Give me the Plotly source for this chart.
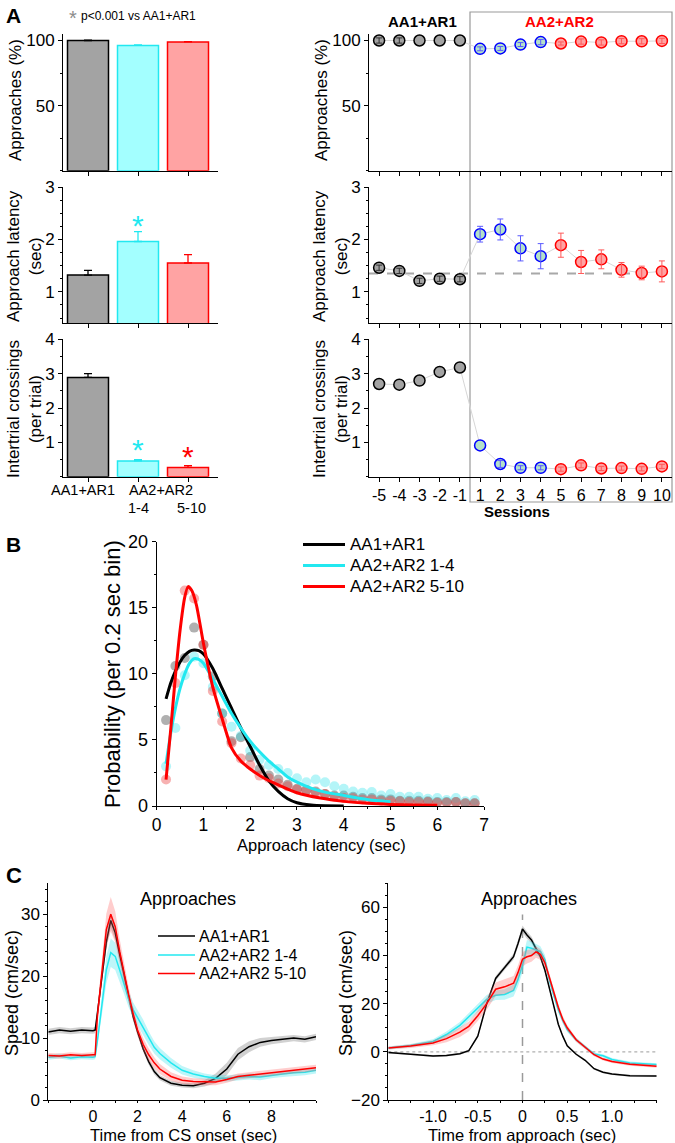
import plotly.graph_objects as go

W, H = 675, 1143
FONT = "Arial, Liberation Sans, sans-serif"

# ---------------- Panel A : group summaries (bars) ----------------
groups = ["AA1+AR1", "AA2+AR2 1-4", "AA2+AR2 5-10"]
bar_approach = [100.0, 96.2, 98.9]
bar_approach_err = [0.3, 0.4, 0.3]
bar_latency = [1.32, 1.96, 1.55]
bar_latency_err = [0.09, 0.19, 0.16]
bar_crossings = [2.89, 0.46, 0.27]
bar_crossings_err = [0.11, 0.04, 0.05]
latency_sig = [False, True, False]
crossings_sig = [False, True, True]

# ---------------- Panel A : per-session values ----------------
sessions = ["-5", "-4", "-3", "-2", "-1", "1", "2", "3", "4", "5", "6", "7", "8", "9", "10"]
sess_approach = [100, 100, 100, 100, 100, 93.6, 93.9, 96.9, 98.8, 97.7, 99.2, 98.5, 99.5, 99.4, 99.7]
sess_approach_err = [2, 2, 0, 0, 0, 1.5, 1.5, 1.5, 2, 1.2, 2, 2, 2, 2, 2]
sess_latency = [1.46, 1.40, 1.21, 1.25, 1.24, 2.10, 2.19, 1.83, 1.68, 1.89, 1.57, 1.62, 1.42, 1.36, 1.39]
sess_latency_err = [0.05, 0.05, 0.05, 0.05, 0.05, 0.15, 0.2, 0.24, 0.24, 0.23, 0.22, 0.18, 0.14, 0.13, 0.2]
sess_crossings = [2.70, 2.68, 2.80, 3.05, 3.18, 0.91, 0.37, 0.26, 0.26, 0.22, 0.33, 0.24, 0.25, 0.23, 0.30]
sess_crossings_err = [0, 0, 0, 0, 0, 0, 0.1, 0.06, 0.06, 0.06, 0.07, 0.06, 0.06, 0.06, 0.06]
baseline_latency = 1.35

# ---------------- Panel B : latency distributions ----------------
bins = [0.2, 0.4, 0.6, 0.8, 1.0, 1.2, 1.4, 1.6, 1.8, 2.0, 2.2, 2.4, 2.6, 2.8, 3.0, 3.2, 3.4,
        3.6, 3.8, 4.0, 4.2, 4.4, 4.6, 4.8, 5.0, 5.2, 5.4, 5.6, 5.8, 6.0, 6.2, 6.4, 6.6, 6.8]
prob_aa1 = [6.5, 10.6, 11.2, 13.5, 12.2, 9.8, 7.0, 4.9, 5.2, 3.7, 2.8, 2.3, 2.0, 1.6, 1.3, 1.2, 1.1,
            0.9, 0.8, 0.8, 0.7, 0.6, 0.6, 0.5, 0.5, 0.4, 0.4, 0.4, 0.35, 0.3, 0.3, 0.3, 0.2, 0.2]
prob_aa2_early = [3.0, 5.9, 9.9, 11.3, 10.8, 9.0, 7.0, 6.0, 5.3, 4.2, 3.5, 3.1, 2.8, 2.5, 2.1, 1.8, 2.0,
                  1.8, 1.5, 1.3, 1.1, 1.0, 1.05, 0.8, 0.9, 0.7, 0.7, 0.7, 0.55, 0.6, 0.45, 0.6, 0.35, 0.45]
prob_aa2_late = [2.0, 9.3, 16.3, 15.7, 12.2, 8.7, 6.4, 4.75, 3.6, 3.1, 2.3, 2.1, 1.7, 1.5, 1.25, 1.2, 1.0,
                 0.9, 0.7, 0.6, 0.6, 0.5, 0.5, 0.4, 0.4, 0.35, 0.3, 0.3, 0.3, 0.25, 0.25, 0.3, 0.2, 0.2]

fit_x_aa1 = [0.2, 0.3, 0.4, 0.5, 0.6, 0.7, 0.8, 0.9, 1.0, 1.2, 1.4, 1.6, 1.8, 2.0, 2.2, 2.4, 2.6, 2.8, 3.0, 3.3, 3.6, 4.0]
fit_y_aa1 = [8.1, 9.3, 10.2, 10.9, 11.4, 11.7, 11.8, 11.75, 11.5, 10.4, 8.9, 7.4, 5.9, 4.5, 3.1, 1.9, 1.1, 0.55, 0.25, 0.07, 0.01, 0.0]
fit_x_early = [0.2, 0.3, 0.4, 0.5, 0.6, 0.7, 0.8, 0.9, 1.0, 1.2, 1.4, 1.6, 1.8, 2.0, 2.2, 2.4, 2.6, 2.8, 3.0, 3.3, 3.6, 4.0, 4.5, 5.0]
fit_y_early = [3.2, 5.5, 7.4, 8.9, 10.0, 10.8, 11.15, 11.1, 10.8, 9.6, 8.3, 7.0, 5.9, 4.9, 4.1, 3.4, 2.8, 2.2, 1.8, 1.35, 1.05, 0.8, 0.5, 0.32]
fit_x_late = [0.2, 0.3, 0.4, 0.5, 0.6, 0.67, 0.75, 0.85, 1.0, 1.2, 1.4, 1.6, 1.8, 2.0, 2.3, 2.6, 3.0, 3.5, 4.0, 4.5, 5.0, 5.5, 6.0]
fit_y_late = [2.0, 5.8, 9.8, 13.3, 15.8, 16.6, 16.3, 15.2, 12.3, 9.0, 6.6, 4.4, 3.4, 2.8, 2.1, 1.6, 1.0, 0.6, 0.35, 0.2, 0.12, 0.08, 0.05]

# ---------------- Panel C : speed traces ----------------
t_cs = [-2, -1.5, -1, -0.5, 0, 0.1, 0.2, 0.4, 0.6, 0.8, 1.0, 1.2, 1.4, 1.6, 1.8, 2.0, 2.25, 2.5, 2.75,
        3.0, 3.5, 4.0, 4.5, 5.0, 5.5, 6.0, 6.5, 7.0, 7.5, 8.0, 8.5, 9.0, 9.5, 10.0]
speed_cs_aa1 = [11.0, 11.3, 11.1, 11.3, 11.2, 11.3, 14.0, 20.0, 25.5, 29.0, 27.0, 23.5, 20.0, 16.5, 13.5, 11.0, 8.3, 6.2, 4.6,
                3.6, 2.7, 2.4, 2.3, 2.7, 3.5, 5.0, 7.4, 8.6, 9.3, 9.6, 9.8, 10.0, 9.8, 10.2]
sem_cs_aa1 = [0.5, 0.5, 0.5, 0.5, 0.5, 0.5, 0.8, 1.0, 1.2, 1.2, 1.2, 1.0, 0.8, 0.7, 0.6, 0.5, 0.5, 0.5, 0.5,
              0.4, 0.4, 0.4, 0.4, 0.5, 0.8, 1.0, 1.0, 0.9, 0.7, 0.6, 0.5, 0.5, 0.5, 0.5]
speed_cs_early = [6.9, 7.1, 6.8, 7.0, 6.9, 7.0, 9.5, 15.5, 21.0, 23.8, 23.2, 21.0, 18.6, 16.3, 14.6, 13.3, 11.8, 10.0, 8.5,
                  7.5, 6.0, 4.8, 4.2, 3.8, 3.5, 3.5, 3.6, 3.8, 3.7, 4.0, 4.2, 4.4, 4.5, 4.8]
sem_cs_early = [0.4, 0.4, 0.4, 0.4, 0.4, 0.4, 1.0, 1.8, 2.2, 2.3, 2.2, 1.8, 1.5, 1.3, 1.2, 1.2, 1.2, 1.1, 1.0,
                0.9, 0.8, 0.7, 0.6, 0.5, 0.5, 0.5, 0.5, 0.5, 0.5, 0.5, 0.5, 0.5, 0.5, 0.5]
speed_cs_late = [7.2, 7.1, 7.3, 7.2, 7.3, 7.3, 13.5, 21.0, 27.5, 30.0, 28.0, 24.0, 20.3, 17.0, 14.0, 11.3, 9.0, 7.3, 6.0,
                 5.0, 3.8, 3.2, 3.0, 2.9, 2.9, 3.3, 3.8, 4.0, 4.2, 4.4, 4.6, 4.9, 5.0, 5.2]
sem_cs_late = [0.4, 0.4, 0.4, 0.4, 0.4, 0.4, 1.2, 2.0, 2.6, 2.8, 2.5, 2.0, 1.6, 1.3, 1.1, 1.0, 1.0, 1.0, 0.9,
               0.8, 0.7, 0.6, 0.5, 0.5, 0.5, 0.5, 0.5, 0.5, 0.5, 0.5, 0.5, 0.5, 0.5, 0.5]

t_app = [-1.5, -1.25, -1.0, -0.85, -0.7, -0.6, -0.5, -0.4, -0.3, -0.2, -0.1, -0.05, 0, 0.05, 0.1,
         0.15, 0.2, 0.25, 0.3, 0.35, 0.4, 0.45, 0.5, 0.6, 0.7, 0.8, 0.9, 1.0, 1.2, 1.5]
speed_app_aa1 = [-0.3, -0.9, -1.7, -1.5, -0.8, 0.5, 6.5, 20.0, 30.5, 35.0, 39.5, 45.0, 51.0, 48.5, 46.5,
                 43.0, 39.5, 34.0, 26.5, 19.0, 11.5, 6.5, 2.5, -1.0, -3.5, -7.0, -8.5, -9.2, -9.9, -10.0]
sem_app_aa1 = [0.4, 0.4, 0.4, 0.4, 0.4, 0.5, 0.6, 0.8, 1.0, 1.0, 1.2, 1.4, 1.5, 1.5, 1.4,
               1.2, 1.0, 0.9, 0.8, 0.7, 0.6, 0.5, 0.5, 0.4, 0.4, 0.4, 0.4, 0.4, 0.4, 0.4]
speed_app_early = [1.6, 2.6, 4.3, 7.2, 11.0, 14.5, 18.0, 21.8, 23.5, 23.8, 25.5, 30.0, 36.0, 43.5, 43.0,
                   42.5, 41.7, 38.3, 30.0, 23.5, 17.5, 13.0, 9.2, 5.0, 2.2, -0.9, -1.6, -3.2, -4.6, -5.3]
sem_app_early = [0.6, 0.7, 0.9, 1.2, 1.4, 1.5, 1.6, 1.8, 2.0, 2.2, 2.5, 2.8, 3.0, 3.0, 2.8,
                 2.5, 2.2, 2.0, 1.8, 1.6, 1.4, 1.2, 1.0, 0.8, 0.7, 0.6, 0.6, 0.6, 0.6, 0.6]
speed_app_late = [1.6, 2.4, 3.7, 5.5, 8.2, 10.6, 15.0, 20.0, 26.0, 27.0, 28.5, 33.0, 38.5, 39.5, 40.0,
                  41.5, 40.5, 37.0, 31.0, 24.5, 18.5, 13.5, 10.0, 5.0, 1.8, -1.2, -3.0, -4.0, -5.2, -6.0]
sem_app_late = [0.6, 0.8, 1.0, 1.5, 2.0, 2.0, 2.2, 2.5, 2.8, 3.0, 3.0, 3.0, 3.0, 2.8, 2.6,
                2.4, 2.2, 2.0, 1.8, 1.6, 1.5, 1.4, 1.2, 0.9, 0.7, 0.6, 0.6, 0.6, 0.6, 0.6]

# ---------------- styling ----------------
GREY_FILL, GREY_LINE = "#a3a3a3", "#000000"
CYAN_FILL, CYAN_LINE = "#a3ffff", "#22e8f0"
PINK_FILL, RED_LINE = "#ffa3a3", "#ff0000"
GREEN_FILL, BLUE_LINE = "#b4e1c8", "#0000ff"
bar_fill = [GREY_FILL, CYAN_FILL, PINK_FILL]
bar_line = [GREY_LINE, CYAN_LINE, RED_LINE]


def xdom(left, right):
    return [left / W, right / W]


def ydom(top, bottom):
    return [1 - bottom / H, 1 - top / H]


def axis(**kw):
    base = dict(showline=True, linecolor="black", linewidth=1, ticks="outside", ticklen=4,
                tickwidth=1, tickcolor="black", showgrid=False, zeroline=False, automargin=False,
                tickfont=dict(size=17, color="black"), mirror=False)
    base.update(kw)
    return base


def text(x, y, s, size, color="black", bold=False, angle=0, xanchor="center"):
    if bold:
        s = "<b>" + s + "</b>"
    return dict(x=x / W, y=1 - y / H, xref="paper", yref="paper", text=s, showarrow=False,
                font=dict(size=size, color=color, family=FONT), textangle=angle,
                xanchor=xanchor, yanchor="middle")


fig = go.Figure()
annotations = []
shapes = []

# ---- Panel A left: bars ----
bar_sets = [(bar_approach, bar_approach_err, 1), (bar_latency, bar_latency_err, 2),
            (bar_crossings, bar_crossings_err, 3)]
for vals, errs, k in bar_sets:
    sfx = "" if k == 1 else str(k)
    for i, g in enumerate(groups):
        fig.add_trace(go.Bar(
            x=[g], y=[vals[i]], width=0.82, xaxis="x" + sfx, yaxis="y" + sfx,
            marker=dict(color=bar_fill[i], line=dict(color=bar_line[i], width=1.5)),
            error_y=dict(type="data", array=[errs[i]], arrayminus=[0], symmetric=False,
                         color=bar_line[i], thickness=1.3, width=4),
            showlegend=False))

for i, g in enumerate(groups):
    if latency_sig[i]:
        annotations.append(dict(x=g, y=bar_latency[i] + bar_latency_err[i] + 0.12, xref="x2", yref="y2",
                                text="*", showarrow=False, font=dict(size=30, color=bar_line[i])))
    if crossings_sig[i]:
        annotations.append(dict(x=g, y=bar_crossings[i] + bar_crossings_err[i] + 0.28, xref="x3", yref="y3",
                                text="*", showarrow=False, font=dict(size=30, color=bar_line[i])))

# ---- Panel A right: sessions ----
sess_sets = [(sess_approach, sess_approach_err, 4), (sess_latency, sess_latency_err, 5),
             (sess_crossings, sess_crossings_err, 6)]
parts = [(slice(0, 5), GREY_FILL, GREY_LINE, "#333333"),
         (slice(5, 9), GREEN_FILL, BLUE_LINE, "#5a5aff"),
         (slice(9, 15), PINK_FILL, RED_LINE, "#ff5a5a")]
for vals, errs, k in sess_sets:
    xa, ya = "x" + str(k), "y" + str(k)
    fig.add_trace(go.Scatter(x=sessions, y=vals, mode="lines", xaxis=xa, yaxis=ya,
                             line=dict(color="#d6d6d6", width=1), showlegend=False))
    for sl, fill, edge, ecol in parts:
        fig.add_trace(go.Scatter(x=sessions[sl], y=vals[sl], mode="markers", xaxis=xa, yaxis=ya,
                                 marker=dict(size=11, color=fill, line=dict(color=edge, width=1.5)),
                                 showlegend=False))
    # error bars drawn over the markers, only where an error was read
    for sl, fill, edge, ecol in parts:
        keep = [j for j in range(len(sessions))[sl] if errs[j] > 0]
        if not keep:
            continue
        fig.add_trace(go.Scatter(x=[sessions[j] for j in keep], y=[vals[j] for j in keep],
                                 mode="markers", xaxis=xa, yaxis=ya, marker=dict(size=2, opacity=0),
                                 error_y=dict(type="data", array=[errs[j] for j in keep], color=ecol,
                                              thickness=1, width=3),
                                 showlegend=False))

shapes.append(dict(type="line", xref="x5 domain", yref="y5", x0=0, x1=1,
                   y0=baseline_latency, y1=baseline_latency, layer="below",
                   line=dict(color="#a8a8a8", width=2, dash="dash")))
shapes.append(dict(type="rect", xref="paper", yref="paper", x0=470 / W, x1=672 / W,
                   y0=1 - 502 / H, y1=1 - 12 / H, line=dict(color="#9a9a9a", width=1.2), layer="below"))

# ---- Panel B ----
b_sets = [(prob_aa1, "rgba(80,80,80,0.45)"), (prob_aa2_early, "rgba(40,225,235,0.35)"),
          (prob_aa2_late, "rgba(235,60,60,0.4)")]
for vals, col in b_sets:
    fig.add_trace(go.Scatter(x=bins, y=vals, mode="markers", xaxis="x7", yaxis="y7",
                             marker=dict(size=10, color=col), showlegend=False))
fits = [(fit_x_aa1, fit_y_aa1, "black"), (fit_x_early, fit_y_early, CYAN_LINE),
        (fit_x_late, fit_y_late, RED_LINE)]
for fx, fy, col in fits:
    fig.add_trace(go.Scatter(x=fx, y=fy, mode="lines", xaxis="x7", yaxis="y7",
                             line=dict(color=col, width=3, shape="spline", smoothing=0.6), showlegend=False))


# ---- Panel C ----
def band_and_line(t, y, sem, fillcol, linecol, xa, ya):
    upper = [a + b for a, b in zip(y, sem)]
    lower = [a - b for a, b in zip(y, sem)]
    fig.add_trace(go.Scatter(x=t + t[::-1], y=upper + lower[::-1], fill="toself", fillcolor=fillcol,
                             line=dict(width=0), mode="lines", xaxis=xa, yaxis=ya, showlegend=False,
                             hoverinfo="skip"))
    fig.add_trace(go.Scatter(x=t, y=y, mode="lines", line=dict(color=linecol, width=1.5),
                             xaxis=xa, yaxis=ya, showlegend=False))


c_left = [(speed_cs_aa1, sem_cs_aa1, "rgba(140,140,140,0.4)", "black"),
          (speed_cs_early, sem_cs_early, "rgba(40,225,235,0.3)", CYAN_LINE),
          (speed_cs_late, sem_cs_late, "rgba(255,90,90,0.3)", RED_LINE)]
for y, s, fc, lc in c_left:
    band_and_line(t_cs, y, s, fc, lc, "x8", "y8")
c_right = [(speed_app_aa1, sem_app_aa1, "rgba(140,140,140,0.4)", "black"),
           (speed_app_early, sem_app_early, "rgba(40,225,235,0.3)", CYAN_LINE),
           (speed_app_late, sem_app_late, "rgba(255,90,90,0.3)", RED_LINE)]
for y, s, fc, lc in c_right:
    band_and_line(t_app, y, s, fc, lc, "x9", "y9")

shapes.append(dict(type="line", xref="x9", yref="y9", x0=0, x1=0, y0=-20, y1=57, layer="below",
                   line=dict(color="#9a9a9a", width=1.5, dash="dash")))
shapes.append(dict(type="line", xref="x9 domain", yref="y9", x0=0, x1=1, y0=0, y1=0, layer="below",
                   line=dict(color="#b0b0b0", width=1.2, dash="dot")))

# ---- legends (drawn as keys) ----
legend_names = ["AA1+AR1", "AA2+AR2 1-4", "AA2+AR2 5-10"]
legend_cols = ["black", CYAN_LINE, RED_LINE]
for i, (nm, col) in enumerate(zip(legend_names, legend_cols)):
    yb = [544.5, 565.5, 586.5][i]
    shapes.append(dict(type="line", xref="paper", yref="paper", x0=303 / W, x1=345 / W,
                       y0=1 - yb / H, y1=1 - yb / H, line=dict(color=col, width=3)))
    annotations.append(text(348, yb, nm, 17, xanchor="left"))
    yc = [936, 955, 973.5][i]
    shapes.append(dict(type="line", xref="paper", yref="paper", x0=158 / W, x1=195 / W,
                       y0=1 - yc / H, y1=1 - yc / H, line=dict(color=col, width=1.5)))
    annotations.append(text(197, yc, nm, 16, xanchor="left"))

# ---- text ----
annotations += [
    text(13, 15, "A", 21, bold=True),
    text(13, 545, "B", 21, bold=True),
    text(14, 875, "C", 22, bold=True),
    text(73, 18, "*", 20, color="#8c8c8c"),
    text(79, 16, "p&lt;0.001 vs AA1+AR1", 12, xanchor="left"),
    text(16, 100, "Approaches (%)", 17, angle=-90),
    text(24, 256, "Approach latency<br>(sec)", 17, angle=-90),
    text(24, 409, "Intertrial crossings<br>(per trial)", 17, angle=-90),
    text(322, 100, "Approaches (%)", 17, angle=-90),
    text(330, 256, "Approach latency<br>(sec)", 17, angle=-90),
    text(330, 409, "Intertrial crossings<br>(per trial)", 17, angle=-90),
    text(83, 489.5, "AA1+AR1", 14.5),
    text(161, 489.5, "AA2+AR2", 14.5),
    text(138, 508, "1-4", 14.5),
    text(191, 508, "5-10", 14.5),
    text(422, 21, "AA1+AR1", 15, bold=True),
    text(559, 21, "AA2+AR2", 15, color=RED_LINE, bold=True),
    text(517, 511, "Sessions", 15, bold=True),
    text(188, 899, "Approaches", 18),
    text(529, 899, "Approaches", 18),
    text(321, 845, "Approach latency (sec)", 16.5),
    text(112, 674, "Probability (per 0.2 sec bin)", 22, angle=-90),
    text(183, 1134.5, "Time from CS onset (sec)", 16.5),
    text(12, 993, "Speed (cm/sec)", 18, angle=-90),
    text(522, 1134.5, "Time from approach (sec)", 16.5),
    text(346, 993, "Speed (cm/sec)", 18, angle=-90),
]

# ---- axes ----
bar_x = dict(type="category", categoryorder="array", categoryarray=groups, range=[-0.5, 2.6],
             showticklabels=False)
sess_x = dict(type="category", categoryorder="array", categoryarray=sessions, range=[-0.5, 14.5],
              tickmode="array", tickvals=sessions, ticktext=sessions)
rows = [(34, 170.7, [0, 105], [50, 100], 25),
        (187, 323.3, [0.4, 3.0], [1, 2, 3], 0.25),
        (339.3, 476.7, [0, 4.0], [1, 2, 3, 4], 0.5)]
layout_axes = {}
for r, (top, bot, rng, tv, mn) in enumerate(rows):
    kl, kr = r + 1, r + 4
    nl = "" if kl == 1 else str(kl)
    layout_axes["xaxis" + nl] = axis(domain=xdom(63, 218), anchor="y" + nl, **bar_x)
    layout_axes["yaxis" + nl] = axis(domain=ydom(top, bot), anchor="x" + nl, range=rng, tickvals=tv,
                                     minor=dict(dtick=mn, ticks="outside", ticklen=2, tickcolor="black"))
    layout_axes["xaxis" + str(kr)] = axis(domain=xdom(369, 672), anchor="y" + str(kr),
                                          showticklabels=(r == 2), tickfont=dict(size=16), **sess_x)
    layout_axes["yaxis" + str(kr)] = axis(domain=ydom(top, bot), anchor="x" + str(kr), range=rng, tickvals=tv,
                                          minor=dict(dtick=mn, ticks="outside", ticklen=2, tickcolor="black"))

layout_axes["xaxis7"] = axis(domain=xdom(156.7, 484), anchor="y7", range=[0, 7], dtick=1, ticklen=3,
                             tickfont=dict(size=17.5), minor=dict(dtick=0.5, ticks="outside", ticklen=2))
layout_axes["yaxis7"] = axis(domain=ydom(541.7, 806), anchor="x7", range=[0, 20], dtick=5,
                             tickfont=dict(size=18), minor=dict(dtick=2.5, ticks="outside", ticklen=2))
layout_axes["xaxis8"] = axis(domain=xdom(48.3, 316), anchor="y8", range=[-2, 10], tickvals=[0, 2, 4, 6, 8],
                             ticklen=2, tickfont=dict(size=16), minor=dict(dtick=1, ticks="outside", ticklen=2))
layout_axes["yaxis8"] = axis(domain=ydom(883.3, 1100), anchor="x8", range=[0, 35], tickvals=[0, 10, 20, 30],
                             minor=dict(dtick=2, ticks="outside", ticklen=2))
layout_axes["xaxis9"] = axis(domain=xdom(388.3, 656.7), anchor="y9", range=[-1.5, 1.5],
                             tickvals=[-1, -0.5, 0, 0.5, 1], ticktext=["-1.0", "-0.5", "0", "0.5", "1.0"],
                             ticklen=2, tickfont=dict(size=16), minor=dict(dtick=0.25, ticks="outside", ticklen=2))
layout_axes["yaxis9"] = axis(domain=ydom(883.3, 1100), anchor="x9", range=[-20, 70], tickvals=[-20, 0, 20, 40, 60],
                             minor=dict(dtick=5, ticks="outside", ticklen=2))

fig.update_layout(
    width=W, height=H, margin=dict(l=0, r=0, t=0, b=0),
    paper_bgcolor="white", plot_bgcolor="white",
    font=dict(family=FONT, color="black"),
    showlegend=False, barmode="overlay", hovermode=False,
    annotations=annotations, shapes=shapes,
    **layout_axes,
)

# the page body carries a default 8px margin; drop it so the figure sits at the window origin
fig.write_html("out.html", config={"displayModeBar": False},
               post_script="document.body.style.margin='0';document.body.style.overflow='hidden';")
